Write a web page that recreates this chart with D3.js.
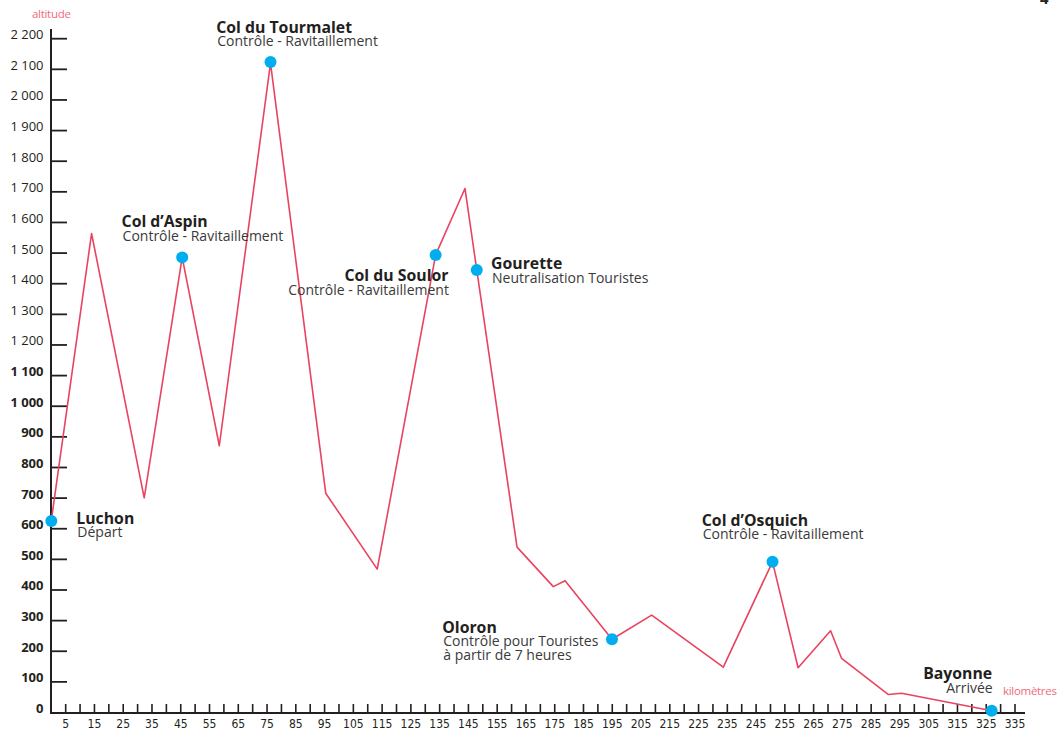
<!DOCTYPE html>
<html>
<head>
<meta charset="utf-8">
<script src="https://cdn.jsdelivr.net/npm/d3@7"></script>
<style>
	body { margin: 0; background: #fff; }
	svg { display: block; }
	.lbl { font-family: "Open Sans", "Noto Sans", sans-serif; fill: #231f20; }
	.ttl { font-weight: bold; font-size: 15.8px; }
	.sub { font-size: 14px; fill: #3a3a3a; }
	.ytick { font-family: "Open Sans", sans-serif; font-size: 13px; fill: #231f20; }
	.xtick { font-family: "Liberation Sans Narrow", "DejaVu Sans Condensed", sans-serif; font-size: 12px; fill: #231f20; }
	.unit { font-family: "Open Sans", sans-serif; font-size: 11.5px; fill: #ef6a80; letter-spacing: -0.3px; }
</style>
</head>
<body>
<div id="profile"></div>
<script>
// profile of the course: kilometre / altitude (m)
var km = [0, 14, 32.3, 45.5, 58.4, 76.2, 95.4, 113.3, 133.6, 143.8, 147.9, 161.9, 174.5, 178.6, 194.9, 208.7, 233.6, 250.7, 259.6, 270.9, 274.7, 290.9, 295.6, 326.9]
var altitude = [627, 1564, 701, 1486, 871, 2120, 716, 468, 1494, 1711, 1445, 540, 411, 430, 239, 318, 148, 492, 146, 267, 177, 59, 63, 6]

// points of passage
var stopNames = ['Luchon', 'Col d\u2019Aspin', 'Col du Tourmalet', 'Col du Soulor', 'Gourette', 'Oloron', 'Col d\u2019Osquich', 'Bayonne']
var stopNotes = [
	['Départ'],
	['Contrôle - Ravitaillement'],
	['Contrôle - Ravitaillement'],
	['Contrôle - Ravitaillement'],
	['Neutralisation Touristes'],
	['Contrôle pour Touristes', 'à partir de 7 heures'],
	['Contrôle - Ravitaillement'],
	['Arrivée']
]
var stopKm = [0, 45.5, 76.2, 133.6, 147.9, 194.9, 250.7, 326.9]
var stopAlt = [625, 1486, 2124, 1494, 1445, 239, 492, 6]

var yTicks = d3.range(0, 2300, 100)
var xTicks = d3.range(5, 340, 5)
var xLabels = d3.range(5, 340, 10)

var width = 1058, height = 730

var svg = d3.select('#profile')
	.append('svg')
	.attr('width', width)
	.attr('height', height)

var x = d3.scaleLinear().domain([0, 335]).range([51.3, 1015])
var y = d3.scaleLinear().domain([0, 2200]).range([712.5, 38.7])

// label offsets from the dot, in px
var labelPos = [
	{dx: 25, dy: 3, anchor: 'start'},
	{dx: -60.6, dy: -30, anchor: 'start'},
	{dx: -54.3, dy: -29, anchor: 'start'},
	{dx: 12.8, dy: 26.5, anchor: 'end'},
	{dx: 14.3, dy: -0.7, anchor: 'start'},
	{dx: -169.7, dy: -6.6, anchor: 'start'},
	{dx: -70.7, dy: -36, anchor: 'start'},
	{dx: 0.5, dy: -31.4, anchor: 'end'}
]

// y axis
svg.append('line')
	.attr('x1', 51).attr('x2', 51)
	.attr('y1', 29).attr('y2', 713.5)
	.attr('stroke', '#231f20').attr('stroke-width', 2)

svg.selectAll('.ytickline')
	.data(yTicks.filter(function(d) { return d > 0 }))
	.enter().append('line')
	.attr('x1', 51).attr('x2', 67)
	.attr('y1', function(d) { return y(d) })
	.attr('y2', function(d) { return y(d) })
	.attr('stroke', '#231f20').attr('stroke-width', 1.8)

var fmt = function(d) { return d >= 1000 ? Math.floor(d / 1000) + ' ' + d3.format('03d')(d % 1000) : '' + d }

svg.selectAll('.ytick')
	.data(yTicks)
	.enter().append('text')
	.attr('class', 'ytick')
	.attr('x', 43.5)
	.attr('y', function(d) { return y(d) + 0.5 })
	.attr('text-anchor', 'end')
	.style('font-weight', function(d) { return d <= 1100 ? 'bold' : 'normal' })
	.text(fmt)

// x axis
svg.append('line')
	.attr('x1', 50).attr('x2', 1025)
	.attr('y1', 713).attr('y2', 713)
	.attr('stroke', '#231f20').attr('stroke-width', 2)

svg.selectAll('.xtickline')
	.data(xTicks)
	.enter().append('line')
	.attr('x1', function(d) { return x(d) })
	.attr('x2', function(d) { return x(d) })
	.attr('y1', 704).attr('y2', 713)
	.attr('stroke', '#231f20').attr('stroke-width', 1.6)

svg.selectAll('.xtick')
	.data(xLabels)
	.enter().append('text')
	.attr('class', 'xtick')
	.attr('x', function(d) { return x(d) })
	.attr('y', 728)
	.attr('text-anchor', 'middle')
	.text(function(d) { return d })

svg.append('text').attr('class', 'unit').attr('x', 32).attr('y', 18).text('altitude')
svg.append('text').attr('class', 'unit').attr('x', 1003).attr('y', 695).text('kilomètres')

// page number, cut at the top
svg.append('text')
	.attr('x', 1040).attr('y', 4)
	.style('font-family', 'Open Sans, sans-serif')
	.style('font-weight', 'bold')
	.style('font-size', '15px')
	.attr('fill', '#231f20')
	.text('4')

// profile line
var line = d3.line()
	.x(function(d, i) { return x(km[i]) })
	.y(function(d, i) { return y(altitude[i]) })

svg.append('path')
	.datum(altitude)
	.attr('d', line)
	.attr('fill', 'none')
	.attr('stroke', '#e9435f')
	.attr('stroke-width', 1.6)
	.attr('stroke-linejoin', 'round')

// stops
svg.selectAll('.stop')
	.data(stopNames)
	.enter().append('circle')
	.attr('cx', function(d, i) { return x(stopKm[i]) })
	.attr('cy', function(d, i) { return y(stopAlt[i]) })
	.attr('r', 6)
	.attr('fill', '#00aeef')

stopNames.forEach(function(name, i) {
	var p = labelPos[i]
	var lx = x(stopKm[i]) + p.dx
	var ly = y(stopAlt[i]) + p.dy
	var g = svg.append('g').attr('class', 'lbl').attr('text-anchor', p.anchor)
	g.append('text').attr('class', 'lbl ttl').attr('x', lx).attr('y', ly).text(name)
	stopNotes[i].forEach(function(note, j) {
		g.append('text').attr('class', 'lbl sub')
			.attr('x', lx + (p.anchor == 'start' ? 1 : 0.5))
			.attr('y', ly + 13.4 * (j + 1))
			.text(note)
	})
})
</script>
</body>
</html>
